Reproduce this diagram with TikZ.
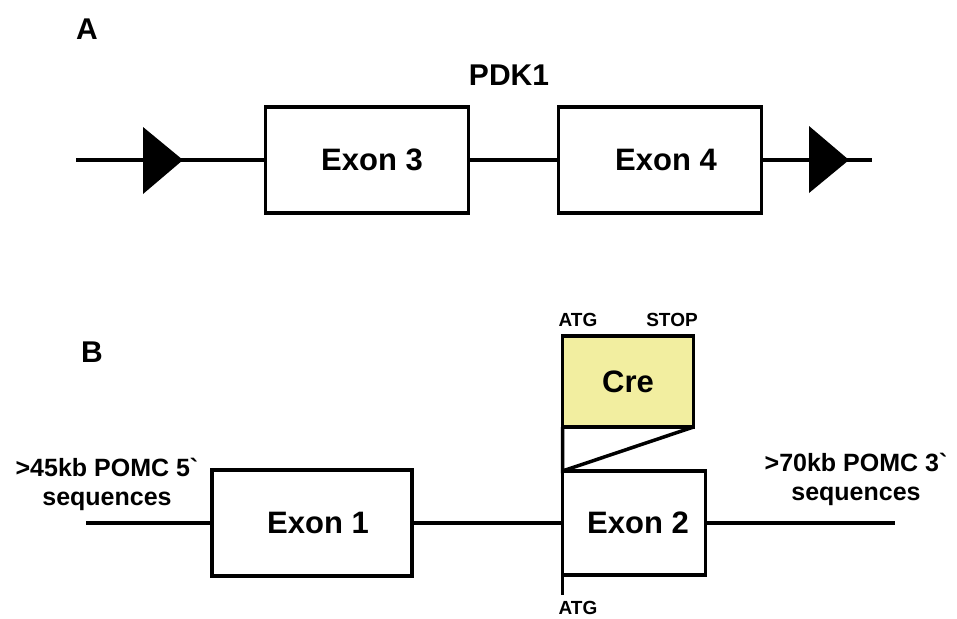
\documentclass[tikz,border=0pt]{standalone}
\usepackage{fontspec}
\newfontfamily\genefont{Liberation Sans}
\usepackage{tikz}
\usetikzlibrary{positioning}
\definecolor{crefill}{RGB}{242,238,160}

\begin{document}
\begin{tikzpicture}[
      x=1pt, y=-1pt,
      line width=3.5pt,
      exon/.style={draw, fill=white, line width=3.5pt, inner sep=0pt, outer sep=0pt, font=\genefont\bfseries\fontsize{31}{34}\selectfont},
      cre/.style={exon, fill=crefill},
      panel/.style={font=\genefont\bfseries\fontsize{30}{32}\selectfont},
      site/.style={font=\genefont\bfseries\fontsize{19}{21}\selectfont},
      flank/.style={align=center, font=\genefont\bfseries\fontsize{25}{29}\selectfont}
    ]
    \useasboundingbox (0,0) rectangle (957,618);

    % A: floxed PDK1
    \node[panel] (lblA) at (87,29) {A};
    \node[panel] (pdk) at (509,75) {PDK1};
    \coordinate (a0) at (76,160);
    \coordinate (a1) at (872,160);
    \node[exon, minimum width=203, minimum height=106] (ex3) at (367,160) {\hspace{10pt}Exon 3};
    \node[exon, minimum width=203, minimum height=106] (ex4) at (660,160) {\hspace{12pt}Exon 4};
    \draw (a0) -- (ex3.west);
    \draw (ex3.east) -- (ex4.west);
    \draw (ex4.east) -- (a1);
    \coordinate (lox1) at (143,160);
    \coordinate (lox2) at (809,160);
    \fill (lox1) ++(0,-33) -- ++(40,33) -- ++(-40,34) -- cycle;
    \fill (lox2) ++(0,-34) -- ++(40,34) -- ++(-40,33) -- cycle;

    % B: POMC-Cre
    \node[panel] (lblB) at (92,352) {B};
    \coordinate (b0) at (86,523);
    \coordinate (b1) at (895,523);
    \node[exon, minimum width=200, minimum height=106] (ex1) at (312,523) {\hspace{12pt}Exon 1};
    \node[exon, minimum width=143, minimum height=104] (ex2) at (634,523) {\hspace{8pt}Exon 2};
    \draw (b0) -- (ex1.west);
    \draw (ex1.east) -- (ex2.west);
    \draw (ex2.east) -- (b1);
    \node[cre, minimum width=131, minimum height=91] (cre) at (628,381.5) {Cre};
    \draw[line join=miter] (cre.south west) -- (ex2.north west) -- (cre.south east);
    \coordinate (atgb) at (ex2.south west |- 0,595);
    \draw (ex2.south west) -- (atgb);

    \node[site] (atg1) at (578,320) {ATG};
    \node[site] (stop) at (672,320) {STOP};
    \node[site] (atg2) at (578,608) {ATG};

    \node[flank] (five) at (107,484) {>45kb POMC 5`\\sequences};
    \node[flank] (three) at (856,479) {>70kb POMC 3`\\sequences};
  \end{tikzpicture}
\end{document}
